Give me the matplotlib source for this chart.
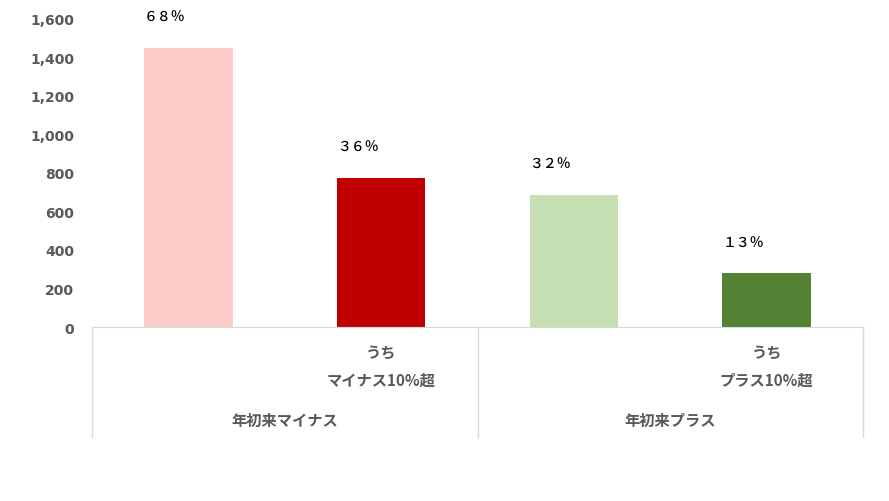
import matplotlib
matplotlib.use("Agg")
import matplotlib.pyplot as plt
import matplotlib.transforms as mtransforms

plt.rcParams['font.family'] = ['Noto Sans CJK JP', 'DejaVu Sans']

# data
values = [1450, 776, 688, 278]
pct_labels = ['６８％', '３６％', '３２％', '１３％']
colors = ['#FFCCCC', '#C00000', '#C6E0B4', '#548235']
sub_labels = ['', 'うち\nマイナス10%超', '', 'うち\nプラス10%超']
groups = ['年初来マイナス', '年初来プラス']
yticks = [0, 200, 400, 600, 800, 1000, 1200, 1400, 1600]

fig = plt.figure(figsize=(8.89, 5.02), dpi=100)
ax = fig.add_axes([0.1035, 0.3466, 0.8673, 0.6136])

xs = list(range(len(values)))
width = 0.46
ax.bar(xs, values, width=width, color=colors)

for x, v, lab in zip(xs, values, pct_labels):
    ax.text(x - width / 2, v + 160, lab, ha='left', va='center',
            fontsize=10, fontweight='medium', color='black', clip_on=False)

ax.set_xlim(-0.5, 3.5)
ax.set_ylim(0, 1600)
ax.set_yticks(yticks)
ax.set_yticklabels(['{:,}'.format(t) for t in yticks],
                   family='DejaVu Sans', fontweight='bold', fontsize=10,
                   color='#595959')
ax.tick_params(axis='y', length=0, pad=13)
ax.set_xticks([])
for s in ['left', 'right', 'top']:
    ax.spines[s].set_visible(False)
ax.spines['bottom'].set_color('#D9D9D9')

# category axis (two levels)
trans = mtransforms.blended_transform_factory(ax.transData, ax.transAxes)
for xb in [-0.5, 1.5, 3.5]:
    ax.plot([xb, xb], [0, -0.357], color='#D9D9D9', lw=1,
            transform=trans, clip_on=False)

for x, lab in zip(xs, sub_labels):
    if not lab:
        continue
    top, bottom = lab.split('\n')
    ax.text(x, -0.081, top, transform=trans, ha='center', va='center',
            fontsize=11, fontweight='bold', color='#595959')
    ax.text(x, -0.172, bottom, transform=trans, ha='center', va='center',
            fontsize=11, fontweight='bold', color='#595959')

for gx, g in zip([0.5, 2.5], groups):
    ax.text(gx, -0.302, g, transform=trans, ha='center', va='center',
            fontsize=11, fontweight='bold', color='#595959')

fig.savefig('out.png', dpi=100)
